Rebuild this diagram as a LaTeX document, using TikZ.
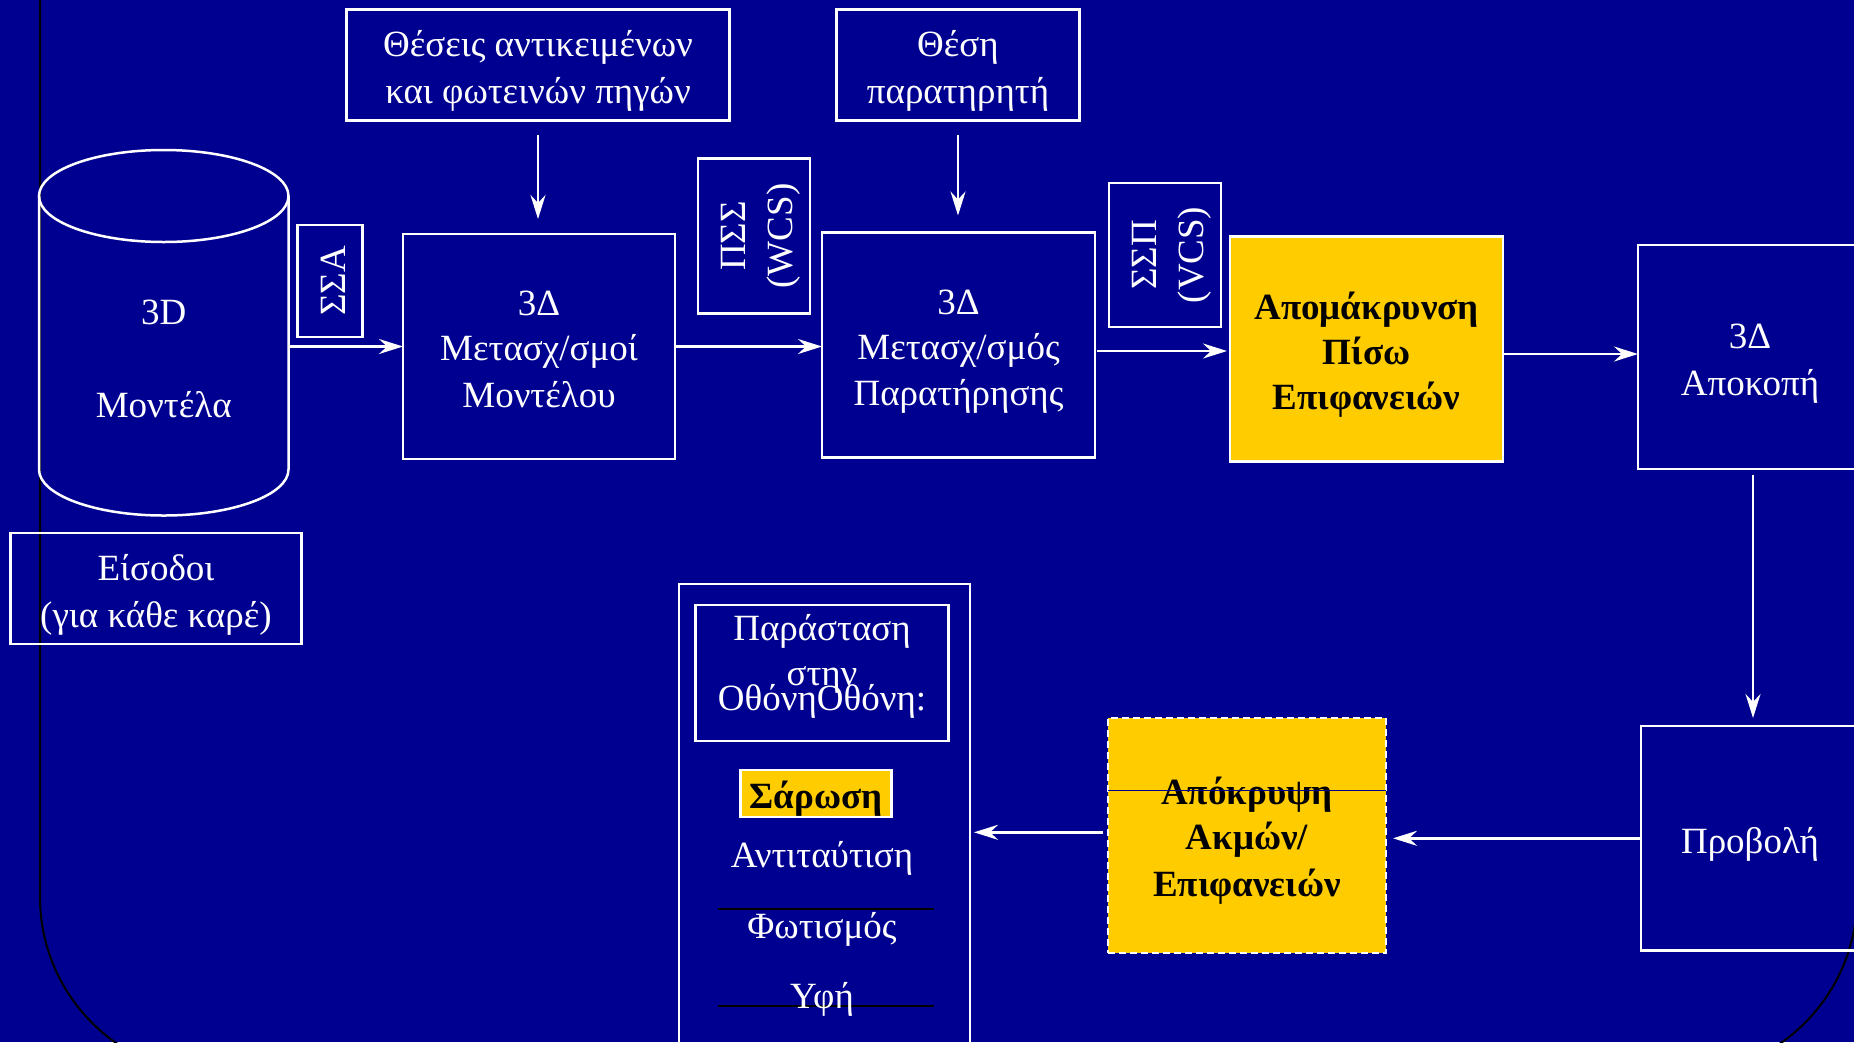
\documentclass[tikz,border=0pt]{standalone}
\usepackage{fontspec}
\setmainfont{Liberation Serif}
\usetikzlibrary{arrows.meta}
\definecolor{bg}{RGB}{0,0,144}
\definecolor{yel}{RGB}{255,204,0}
\newcommand{\ls}{\rule[-8pt]{0pt}{46pt}}
\tikzset{
  base/.style={font=\fontsize{37}{45}\selectfont, align=center, inner sep=0pt, outer sep=0pt},
  wbox/.style={base, draw=white, line width=2.5pt, text=white},
  ybox/.style={base, draw=white, line width=2.5pt, fill=yel, text=black, font=\fontsize{37}{45}\selectfont\bfseries},
  plainbox/.style={draw=white, line width=2.5pt, inner sep=0pt, outer sep=0pt},
  wtext/.style={base, text=white},
  wline/.style={draw=white, line width=2.5pt},
  blk/.style={draw=black, line width=2pt},
  arr/.style={draw=white, line width=2.5pt, -{Stealth[length=24pt, width=15pt, inset=8pt]}},
  sz/.style 2 args={minimum width=#1pt, minimum height=#2pt},
}
\begin{document}
\begin{tikzpicture}[x=1pt, y=-1pt]
\useasboundingbox (0,0) rectangle (1854,1042);
\fill[bg] (0,0) rectangle (1854,1042);
% black rounded frame
\draw[blk, rounded corners=178pt] (40,-30) -- (40,1075) -- (1857,1075) -- (1857,-30);
% black lines inside the screen box
\draw[blk] (718,909) -- (934,909);
\draw[blk] (718,1006) -- (934,1006);

% cylinder
\node[wtext, sz={249.5}{319.5}] (cyl) at (163.75,355.75) {\ls 3D\\[46pt]Μοντέλα\ls};
\draw[wline] (cyl.north west) -- ([yshift=46pt]cyl.south west)
  arc[start angle=180, end angle=360, x radius=124.75pt, y radius=46pt] -- (cyl.north east);
\draw[wline] (cyl.north) ellipse [x radius=124.75pt, y radius=46pt];

\node[wbox, sz={291}{111}] (eis) at (156,588.6) {\ls Είσοδοι\\(για κάθε καρέ)\ls};

\node[wbox, sz={383}{111}] (top1) at (538,65) {\ls Θέσεις αντικειμένων\\και φωτεινών πηγών\ls};
\node[wbox, sz={243}{111}] (top2) at (958,65) {\ls Θέση\\παρατηρητή\ls};

\node[wbox, rotate=90, sz={112}{65}] (ssa) at (330,281) {\ls ΣΣΑ\ls};
\node[wbox, rotate=90, sz={155}{112}] (pss) at (754,236) {\ls ΠΣΣ\\(WCS)\ls};
\node[wbox, rotate=90, sz={144}{112}] (ssp) at (1165,255) {\ls ΣΣΠ\\(VCS)\ls};

\node[wbox, sz={272}{225}] (m1) at (539,346.5) {\ls 3Δ\\Μετασχ/σμοί\\Μοντέλου\ls};
\node[wbox, sz={273}{225}] (m2) at (958.5,345) {\ls 3Δ\\Μετασχ/σμός\\Παρατήρησης\ls};
\node[ybox, sz={273}{225}] (y1) at (1366.5,349) {\ls Απομάκρυνση\\Πίσω\\Επιφανειών\ls};
\node[wbox, sz={224}{224}] (clip) at (1750,357) {\ls 3Δ\\Αποκοπή\ls};
\node[wbox, sz={218}{224.6}] (proj) at (1750,838.3) {\ls Προβολή\ls};
\node[ybox, dashed, dash pattern=on 7pt off 4pt, sz={278}{235}] (y2) at (1247,835.3) {\ls Απόκρυψη\\Ακμών/\\Επιφανειών\ls};
\draw[draw=bg, line width=1.5pt] ([yshift=45pt]y2.west) -- ([yshift=45pt]y2.east);

\node[plainbox, sz={291}{476}] (screen) at (824.5,822) {};
\node[plainbox, sz={253}{136}] (disp) at (822,673) {};
\node[wtext] (disptxt) at (822,660.5) {\ls Παράσταση\\στην\\[-21pt]ΟθόνηΟθόνη:\ls};
\node[ybox, sz={151}{47}] (sar) at (816,793.5) {\ls Σάρωση\ls};
\node[wtext] (anti) at (822,852) {\ls Αντιταύτιση\ls};
\node[wtext] (fot) at (822,923.5) {\ls Φωτισμός\ls};
\node[wtext] (yfi) at (822,993.5) {\ls Υφή\ls};

% connectors
\draw[arr] (cyl.east |- m1.west) -- (m1.west);
\draw[arr] (m1.east) -- (m1.east -| m2.west);
\draw[arr, shorten <=2pt, shorten >=3pt] ([yshift=-6pt]m2.east) -- ([yshift=-6pt]m2.east -| y1.west);
\draw[arr] ([yshift=-5pt]y1.east) -- ([yshift=-5pt]y1.east -| clip.west);
\draw[arr, shorten <=14pt, shorten >=15pt] (top1.south) -- (top1.south |- m1.north);
\draw[arr, shorten <=14pt, shorten >=17pt] (top2.south) -- (top2.south |- m2.north);
\draw[arr, shorten <=6pt, shorten >=8pt] ([xshift=3pt]clip.south) -- ([xshift=3pt]clip.south |- proj.north);
\draw[arr, shorten >=7pt] (proj.west) -- (proj.west -| y2.east);
\draw[arr, shorten <=5pt, shorten >=4pt] ([yshift=3pt]y2.west) -- ([yshift=3pt]y2.west -| screen.east);
\end{tikzpicture}
\end{document}
